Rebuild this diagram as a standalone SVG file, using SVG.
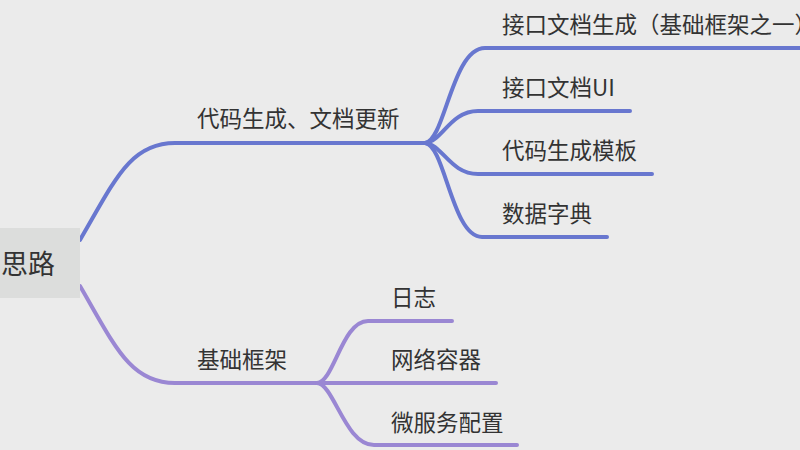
<svg xmlns="http://www.w3.org/2000/svg" width="800" height="450" viewBox="0 0 800 450">
  <style>
    .lbl { font-family: "Noto Sans CJK SC", "Noto Sans", sans-serif; font-size: 22.5px; fill: #333333; }
    .root { font-family: "Noto Sans CJK SC", "Noto Sans", sans-serif; font-size: 27px; fill: #333333; }
    .edge { fill: none; stroke-width: 4; stroke-linecap: round; stroke-linejoin: round; }
    .blue { stroke: #6877cf; }
    .purple { stroke: #9a87d3; }
  </style>
  <rect x="0" y="0" width="800" height="450" fill="#ebebeb"/>

  <g id="connectors">
    <!-- root to main topics -->
    <path class="edge blue" d="M80,240 C115,180 130,143 175,143 H428"/>
    <path class="edge purple" d="M80,286 C115,346 130,383 175,383 H317"/>
    <!-- code generation / docs subtopics -->
    <path class="edge blue" d="M425,143 C445,141 452,48 485,48 H800"/>
    <path class="edge blue" d="M425,143 C442,142 450,111 478,111 H630"/>
    <path class="edge blue" d="M425,143 C442,144 450,174 478,174 H652"/>
    <path class="edge blue" d="M425,143 C445,145 452,237 482,237 H607"/>
    <!-- framework subtopics -->
    <path class="edge purple" d="M317,383 C334,382 342,321 368,321 H452"/>
    <path class="edge purple" d="M317,383 H496"/>
    <path class="edge purple" d="M317,383 C334,384 345,445 374,445 H517"/>
  </g>

  <g id="root">
    <rect x="-10" y="228" width="90" height="70" fill="#dcdddc"/>
    <text class="root" x="55" y="274" text-anchor="end">思路</text>
  </g>

  <g id="topic-codegen">
    <text class="lbl" x="197" y="127">代码生成、文档更新</text>
  </g>
  <g id="topic-apidoc-gen">
    <text class="lbl" x="502" y="33">接口文档生成（基础框架之一）</text>
  </g>
  <g id="topic-apidoc-ui">
    <text class="lbl" x="502" y="96">接口文档UI</text>
  </g>
  <g id="topic-templates">
    <text class="lbl" x="502" y="159">代码生成模板</text>
  </g>
  <g id="topic-dictionary">
    <text class="lbl" x="502" y="222">数据字典</text>
  </g>

  <g id="topic-framework">
    <text class="lbl" x="197" y="368">基础框架</text>
  </g>
  <g id="topic-logging">
    <text class="lbl" x="391" y="306">日志</text>
  </g>
  <g id="topic-container">
    <text class="lbl" x="391" y="368">网络容器</text>
  </g>
  <g id="topic-config">
    <text class="lbl" x="391" y="431">微服务配置</text>
  </g>
</svg>
